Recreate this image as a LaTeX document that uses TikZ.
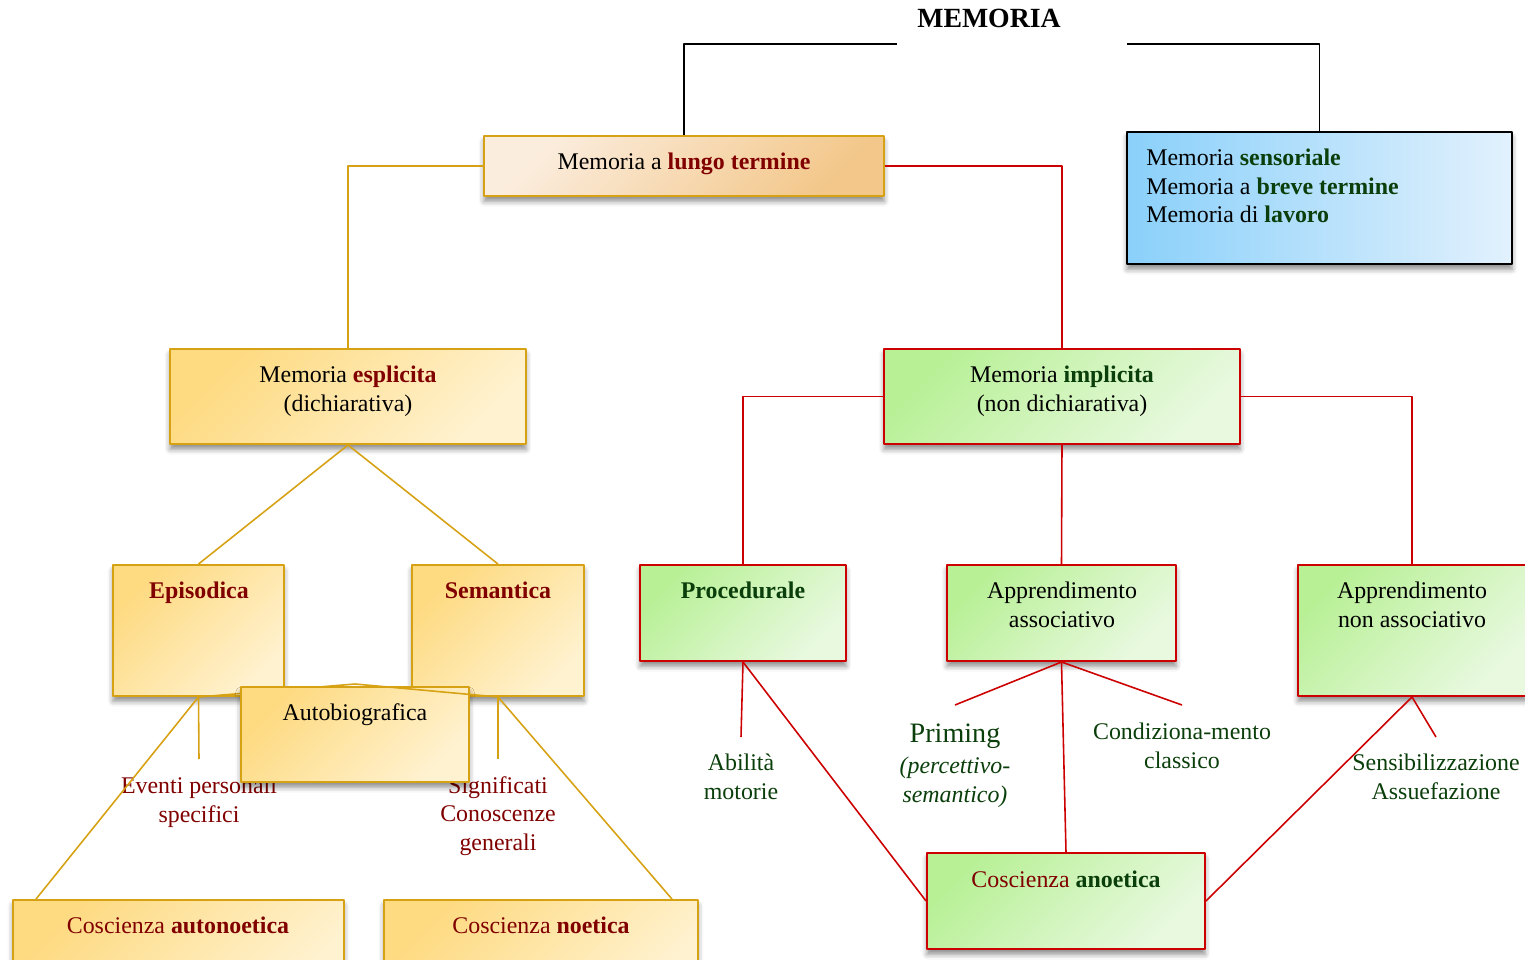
\documentclass[tikz,border=0pt]{standalone}
\usepackage{fontspec}
\setmainfont{Liberation Serif}
\usetikzlibrary{fit,shadows.blur}
\definecolor{dred}{RGB}{128,0,0}
\definecolor{dgreen}{RGB}{10,62,10}
\definecolor{gold}{RGB}{214,162,20}
\definecolor{lred}{RGB}{204,0,0}
\definecolor{yA}{RGB}{254,218,128}
\definecolor{yB}{RGB}{255,242,208}
\definecolor{oA}{RGB}{251,237,222}
\definecolor{oB}{RGB}{243,199,138}
\definecolor{gA}{RGB}{184,240,150}
\definecolor{gB}{RGB}{233,249,224}
\definecolor{bA}{RGB}{138,208,250}
\definecolor{bB}{RGB}{226,241,253}
\newcommand{\redb}[1]{\textcolor{dred}{\bfseries #1}}
\newcommand{\greenb}[1]{\textcolor{dgreen}{\bfseries #1}}
\tikzset{
	box/.style={inner sep=0pt, line width=1.1pt,
		blur shadow={shadow xshift=0pt, shadow yshift=-3pt, shadow blur radius=3pt, shadow opacity=45}},
	ybox/.style={box, draw=gold, top color=yA, bottom color=yB, shading angle=45},
	obox/.style={box, draw=gold, top color=oA, bottom color=oB, shading angle=45},
	gbox/.style={box, draw=lred, top color=gA, bottom color=gB, shading angle=45},
	bbox/.style={box, draw=black, left color=bA, right color=bB},
	lab/.style={inner sep=0pt, align=center, font=\fontsize{13.6}{16.4}\selectfont},
	gline/.style={draw=gold, line width=0.9pt},
	rline/.style={draw=lred, line width=0.9pt},
	kline/.style={draw=black, line width=0.9pt}
}
\begin{document}
\begin{tikzpicture}[x=0.02cm, y=-0.02cm, line join=round]
	\useasboundingbox (0,0) rectangle (1525,960);
	\clip (0,0) rectangle (1525,960);
	\path 	(897,44) coordinate (TL)
		(1127,44) coordinate (TR)
		(355,684) coordinate (AP)
		(199,759) coordinate (EV)
		(498,759) coordinate (SG)
		(741,737) coordinate (AB)
		(955,705) coordinate (PR)
		(1182,705) coordinate (CC)
		(1436,737) coordinate (SN);
	% top
	\node[lab, font=\fontsize{15.8}{18}\selectfont\bfseries] (title) at (989,18) {MEMORIA};
	\node[obox, fit={(484,136)(884,196)}] (lungo) {};
	\node[lab] (lungoT) at (684,164) {Memoria a \redb{lungo termine}};
	\node[bbox, fit={(1127,132)(1512,264)}] (breve) {};
	\node[lab, align=left, anchor=west] (breveT) at (1146,186)
		{Memoria \greenb{sensoriale}\\ Memoria a \greenb{breve termine}\\ Memoria di \greenb{lavoro}};
	% explicit side
	\node[ybox, fit={(170,349)(526,444)}] (esp) {};
	\node[lab] (espT) at (348,391) {Memoria \redb{esplicita}\\ (dichiarativa)};
	\node[ybox, fit={(113,565)(284,696)}] (epi) {};
	\node[lab] (epiT) at (199,593) {\redb{Episodica}};
	\node[ybox, fit={(412,565)(584,696)}] (sem) {};
	\node[lab] (semT) at (498,590) {\redb{Semantica}};
	\node[lab, text=dred] (evT) at (199,802) {Eventi personali\\ specifici};
	\node[lab, text=dred] (sgT) at (498,816) {Significati\\ Conoscenze\\ generali};
	\draw[gline] (AP) -- (epi.south);
	\node[ybox, fit={(241,687)(469,782)}] (auto) {};
	\node[lab] (autoT) at (355,715) {Autobiografica};
	\node[ybox, fit={(13,900)(344,996)}] (auton) {};
	\node[lab, text=dred] (autonT) at (178,925) {Coscienza \textbf{autonoetica}};
	\node[ybox, fit={(384,900)(698,996)}] (noet) {};
	\node[lab, text=dred] (noetT) at (541,925) {Coscienza \textbf{noetica}};
	% implicit side
	\node[gbox, fit={(884,349)(1240,444)}] (impl) {};
	\node[lab] (implT) at (1062,391) {Memoria \greenb{implicita}\\ (non dichiarativa)};
	\node[gbox, fit={(640,565)(846,661)}] (proc) {};
	\node[lab] (procT) at (743,590) {\greenb{Procedurale}};
	\node[gbox, fit={(947,565)(1176,661)}] (ass) {};
	\node[lab] (assT) at (1062,605) {Apprendimento\\ associativo};
	\node[gbox, fit={(1298,565)(1526,696)}] (nass) {};
	\node[lab] (nassT) at (1412,605) {Apprendimento\\ non associativo};
	\node[gbox, fit={(927,853)(1205,949)}] (anoet) {};
	\node[lab] (anoetT) at (1066,879) {\textcolor{dred}{Coscienza} \greenb{anoetica}};
	\node[lab, text=dgreen] (abT) at (741,777) {Abilità\\ motorie};
	\node[lab, text=dgreen, font=\fontsize{16}{18}\selectfont] (prT) at (955,736) {Priming};
	\node[lab, text=dgreen, font=\fontsize{13.6}{16.4}\selectfont\itshape] (prsT) at (955,782) {(percettivo-\\ semantico)};
	\node[lab, text=dgreen] (ccT) at (1182,746) {Condiziona-mento\\ classico};
	\node[lab, text=dgreen] (snT) at (1436,777) {Sensibilizzazione\\ Assuefazione};
	% connectors
	\draw[kline] (lungo.north) |- (TL);
	\draw[kline] (TR) -| (breve.north);
	\draw[gline] (lungo.west) -| (esp.north);
	\draw[rline] (lungo.east) -| (impl.north);
	\draw[gline] (esp.south) -- (epi.north);
	\draw[gline] (esp.south) -- (sem.north);
	\draw[gline] (AP) -- (sem.south);
	\draw[gline] (epi.south) -- (EV);
	\draw[gline] (sem.south) -- (SG);
	\draw[gline] (epi.south) -- ([xshift=0.48cm]auton.north west);
	\draw[gline] (sem.south) -- ([xshift=-0.54cm]noet.north east);
	\draw[rline] (impl.west) -| (proc.north);
	\draw[rline] (impl.east) -| (nass.north);
	\draw[rline] (impl.south) -- (ass.north);
	\draw[rline] (proc.south) -- (AB);
	\draw[rline] (proc.south) -- (anoet.west);
	\draw[rline] (ass.south) -- (PR);
	\draw[rline] (ass.south) -- (CC);
	\draw[rline] (ass.south) -- (anoet.north);
	\draw[rline] (nass.south) -- (SN);
	\draw[rline] (nass.south) -- (anoet.east);
\end{tikzpicture}
\end{document}
